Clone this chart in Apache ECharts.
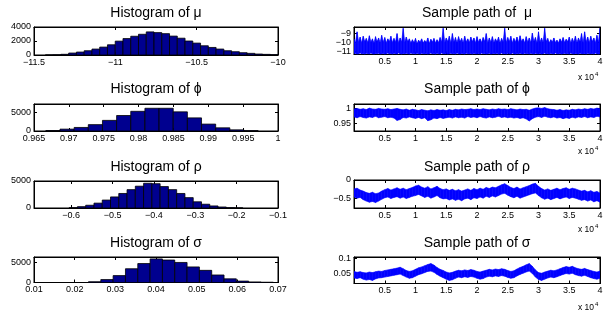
<!DOCTYPE html>
<html><head><meta charset="utf-8">
<script src="https://cdn.jsdelivr.net/npm/echarts@6/dist/echarts.min.js"></script>
<style>html,body{margin:0;padding:0;background:#fff}#c{width:611px;height:315px}</style>
</head><body><div id="c"></div>
<script>
// ---------- Histogram data ----------
const muHistStart = -11.43, muHistBinW = 0.0477;
const muHistCounts = [10, 30, 100, 280, 420, 610, 850, 1130, 1460, 1980, 2350, 2680, 2960, 3300, 3200, 3050, 2700, 2400, 2000, 1700, 1320, 1080, 850, 610, 470, 330, 235, 140, 90, 50];
const phiHistStart = 0.9667, phiHistBinW = 0.00203;
const phiHistCounts = [130, 500, 950, 1700, 2830, 4130, 5250, 6060, 6060, 5110, 3500, 1840, 850, 310, 90];
const rhoHistStart = -0.605, rhoHistBinW = 0.02;
const rhoHistCounts = [60, 250, 510, 900, 1470, 2050, 2690, 3400, 4040, 4580, 4500, 3970, 3400, 2690, 1920, 1150, 700, 380, 190, 60, 20];
const sigmaHistStart = 0.0234, sigmaHistBinW = 0.00303;
const sigmaHistCounts = [200, 720, 1700, 3400, 4680, 5830, 5550, 4950, 3850, 3000, 1860, 900, 350, 150, 70];

// ---------- Tick values ----------
const muHistXTicks = [-11.5, -11, -10.5, -10];
const muHistYTicks = [0, 2000, 4000];
const phiHistXTicks = [0.965, 0.97, 0.975, 0.98, 0.985, 0.99, 0.995, 1];
const phiHistYTicks = [0, 5000];
const rhoHistXTicks = [-0.6, -0.5, -0.4, -0.3, -0.2, -0.1];
const rhoHistYTicks = [0, 5000];
const sigmaHistXTicks = [0.01, 0.02, 0.03, 0.04, 0.05, 0.06, 0.07];
const sigmaHistYTicks = [0, 5000];
const pathXTicks = [5000, 10000, 15000, 20000, 25000, 30000, 35000, 40000];
const muPathYTicks = [-11, -10, -9];
const phiPathYTicks = [0.95, 1];
const rhoPathYTicks = [-0.5, 0];
const sigmaPathYTicks = [0.05, 0.1];

// ---------- Sample path envelopes ----------
const muPathStep = 250;   // mu path read every 250 iterations
const muPathHi = [-9.6, -10.0, -8.8, -9.95, -9.4, -10.05, -9.3, -9.9, -9.55, -10.0,
 -9.25, -9.95, -9.6, -10.05, -9.35, -9.9, -9.5, -10.0, -9.2, -9.95,
 -9.45, -10.05, -9.6, -9.9, -9.3, -10.0, -9.55, -9.95, -9.0, -10.05,
 -9.5, -9.95, -8.4, -10.0, -9.4, -9.9, -9.6, -10.05, -9.7, -10.0,
 -9.55, -10.1, -9.75, -9.95, -9.6, -10.05, -9.8, -10.0, -9.5, -10.1,
 -9.65, -9.95, -9.55, -10.05, -9.7, -10.0, -9.45, -9.95, -8.4, -10.0,
 -9.5, -9.9, -9.3, -10.05, -9.0, -9.95, -9.45, -10.0, -9.35, -9.9,
 -9.55, -10.05, -9.3, -9.95, -9.6, -10.0, -9.4, -9.9, -9.5, -10.05,
 -9.35, -9.95, -9.6, -10.0, -9.45, -9.9, -9.0, -10.05, -9.5, -9.95,
 -9.35, -10.0, -9.6, -9.9, -9.4, -10.05, -9.55, -9.95, -8.4, -10.0,
 -9.45, -9.9, -9.3, -10.05, -9.55, -9.95, -9.4, -10.0, -9.25, -9.9,
 -9.6, -10.05, -9.35, -9.95, -9.5, -10.0, -8.95, -9.9, -9.45, -10.05,
 -8.8, -9.95, -9.5, -10.0, -8.4, -9.9, -9.55, -10.05, -9.7, -9.95,
 -9.5, -10.0, -9.75, -10.05, -9.6, -9.95, -9.45, -10.0, -9.65, -9.9,
 -9.4, -10.05, -9.55, -9.95, -9.3, -10.0, -9.5, -9.9, -9.0, -10.05,
 -8.8, -9.95, -9.4, -10.0, -9.3, -9.9, -9.5, -10.05, -9.2, -9.95,
 -8.4];
const muPathLo = [-11.3, -11.25, -11.35, -11.3, -11.2, -11.32, -11.28, -11.35, -11.25, -11.3,
 -11.33, -11.22, -11.3, -11.35, -11.27, -11.3, -11.24, -11.34, -11.3, -11.26,
 -11.35, -11.3, -11.22, -11.33, -11.28, -11.35, -11.25, -11.3, -11.34, -11.2,
 -11.3, -11.35, -11.27, -11.32, -11.25, -11.3, -11.35, -11.22, -11.3, -11.28,
 -11.34, -11.25, -11.3, -11.35, -11.24, -11.3, -11.33, -11.27, -11.35, -11.3,
 -11.22, -11.32, -11.28, -11.35, -11.25, -11.3, -11.34, -11.2, -11.3, -11.33,
 -11.27, -11.35, -11.3, -11.25, -11.32, -11.28, -11.35, -11.22, -11.3, -11.34,
 -11.26, -11.3, -11.35, -11.24, -11.3, -11.32, -11.27, -11.35, -11.25, -11.3,
 -11.33, -11.28, -11.35, -11.22, -11.3, -11.26, -11.34, -11.3, -11.24, -11.35,
 -11.3, -11.27, -11.32, -11.25, -11.35, -11.3, -11.21, -11.33, -11.28, -11.35,
 -11.25, -11.3, -11.34, -11.22, -11.3, -11.35, -11.27, -11.32, -11.25, -11.3,
 -11.35, -11.23, -11.3, -11.28, -11.34, -11.25, -11.3, -11.35, -11.24, -11.3,
 -11.33, -11.27, -11.35, -11.3, -11.22, -11.32, -11.28, -11.35, -11.25, -11.3,
 -11.34, -11.2, -11.3, -11.33, -11.27, -11.35, -11.3, -11.25, -11.32, -11.28,
 -11.35, -11.22, -11.3, -11.34, -11.26, -11.3, -11.35, -11.24, -11.3, -11.32,
 -11.27, -11.35, -11.25, -11.3, -11.33, -11.28, -11.35, -11.22, -11.3, -11.34,
 -11.3];
const pathStep = 500;     // other paths read every 500 iterations
const phiPathHi = [0.999, 1.001, 0.998, 1.0, 0.997, 1.002, 0.999, 0.998, 1.001, 0.999,
 0.998, 1.0, 0.997, 0.999, 1.001, 0.998, 0.996, 0.999, 0.995, 0.998,
 0.996, 0.994, 0.997, 0.995, 0.993, 0.996, 0.994, 0.997, 0.995, 0.996,
 0.994, 0.997, 0.995, 0.998, 0.996, 0.999, 0.997, 0.998, 1.0, 0.997,
 0.999, 0.997, 1.0, 0.998, 0.996, 0.999, 0.997, 1.0, 0.998, 0.999,
 0.997, 1.0, 0.998, 0.996, 0.999, 0.997, 0.998, 0.995, 0.999, 1.002,
 1.003, 1.001, 1.004, 1.0, 0.998, 0.997, 0.995, 0.997, 0.994, 0.996,
 0.995, 0.998, 0.996, 0.999, 0.997, 1.0, 0.998, 1.001, 0.999, 1.002,
 1.0];
const phiPathLo = [0.972, 0.969, 0.973, 0.970, 0.968, 0.972, 0.970, 0.974, 0.969, 0.971,
 0.973, 0.969, 0.971, 0.968, 0.960, 0.963, 0.970, 0.968, 0.972, 0.969,
 0.967, 0.970, 0.966, 0.969, 0.959, 0.962, 0.968, 0.966, 0.970, 0.967,
 0.969, 0.971, 0.968, 0.972, 0.969, 0.971, 0.968, 0.973, 0.970, 0.972,
 0.969, 0.973, 0.970, 0.968, 0.972, 0.969, 0.971, 0.974, 0.970, 0.972,
 0.969, 0.971, 0.968, 0.970, 0.967, 0.969, 0.965, 0.958, 0.966, 0.971,
 0.973, 0.970, 0.974, 0.971, 0.969, 0.972, 0.968, 0.970, 0.966, 0.969,
 0.967, 0.971, 0.968, 0.972, 0.970, 0.973, 0.969, 0.972, 0.970, 0.974,
 0.972];
const rhoPathHi = [-0.24, -0.22, -0.27, -0.30, -0.34, -0.36, -0.33, -0.37, -0.35, -0.30,
 -0.26, -0.23, -0.27, -0.24, -0.21, -0.25, -0.22, -0.26, -0.23, -0.20,
 -0.16, -0.14, -0.19, -0.22, -0.18, -0.24, -0.21, -0.17, -0.23, -0.26,
 -0.24, -0.28, -0.25, -0.29, -0.26, -0.30, -0.27, -0.24, -0.28, -0.23,
 -0.26, -0.22, -0.25, -0.20, -0.23, -0.19, -0.21, -0.17, -0.13, -0.10,
 -0.15, -0.20, -0.23, -0.19, -0.24, -0.21, -0.18, -0.15, -0.11, -0.09,
 -0.17, -0.23, -0.27, -0.24, -0.28, -0.25, -0.22, -0.26, -0.23, -0.21,
 -0.25, -0.22, -0.24, -0.27, -0.30, -0.28, -0.32, -0.29, -0.33, -0.31,
 -0.35];
const rhoPathLo = [-0.46, -0.49, -0.47, -0.53, -0.57, -0.60, -0.58, -0.61, -0.57, -0.52,
 -0.48, -0.46, -0.50, -0.47, -0.45, -0.49, -0.46, -0.50, -0.47, -0.44,
 -0.42, -0.39, -0.43, -0.47, -0.44, -0.49, -0.46, -0.42, -0.48, -0.51,
 -0.50, -0.54, -0.51, -0.55, -0.52, -0.56, -0.51, -0.49, -0.53, -0.48,
 -0.50, -0.46, -0.49, -0.44, -0.47, -0.43, -0.46, -0.42, -0.38, -0.36,
 -0.41, -0.45, -0.48, -0.44, -0.49, -0.46, -0.43, -0.40, -0.37, -0.35,
 -0.42, -0.48, -0.52, -0.49, -0.53, -0.50, -0.47, -0.51, -0.48, -0.46,
 -0.50, -0.47, -0.49, -0.52, -0.55, -0.53, -0.57, -0.54, -0.59, -0.56,
 -0.60];
const sigmaPathHi = [0.057, 0.054, 0.056, 0.053, 0.052, 0.055, 0.053, 0.056, 0.058, 0.057,
 0.060, 0.062, 0.064, 0.066, 0.068, 0.071, 0.066, 0.060, 0.057, 0.059,
 0.064, 0.069, 0.072, 0.076, 0.080, 0.083, 0.078, 0.070, 0.064, 0.060,
 0.055, 0.052, 0.054, 0.058, 0.061, 0.059, 0.062, 0.060, 0.063, 0.061,
 0.057, 0.055, 0.058, 0.061, 0.064, 0.062, 0.065, 0.063, 0.066, 0.064,
 0.060, 0.057, 0.059, 0.065, 0.070, 0.074, 0.079, 0.083, 0.074, 0.062,
 0.053, 0.051, 0.055, 0.058, 0.061, 0.059, 0.062, 0.066, 0.070, 0.073,
 0.071, 0.074, 0.069, 0.066, 0.064, 0.067, 0.063, 0.060, 0.057, 0.055,
 0.058];
const sigmaPathLo = [0.035, 0.033, 0.036, 0.031, 0.028, 0.030, 0.027, 0.032, 0.035, 0.036,
 0.038, 0.040, 0.042, 0.044, 0.046, 0.048, 0.043, 0.038, 0.034, 0.036,
 0.041, 0.046, 0.049, 0.053, 0.057, 0.058, 0.054, 0.047, 0.041, 0.036,
 0.031, 0.027, 0.029, 0.034, 0.038, 0.036, 0.039, 0.037, 0.040, 0.038,
 0.034, 0.031, 0.033, 0.038, 0.041, 0.039, 0.042, 0.040, 0.043, 0.041,
 0.037, 0.034, 0.036, 0.042, 0.047, 0.051, 0.055, 0.058, 0.050, 0.038,
 0.030, 0.027, 0.031, 0.035, 0.038, 0.036, 0.039, 0.043, 0.047, 0.050,
 0.048, 0.051, 0.046, 0.043, 0.041, 0.044, 0.040, 0.036, 0.033, 0.031,
 0.034];

// ---------- Build chart ----------
const FONT = "'Liberation Sans', Arial, Helvetica, sans-serif";
const fmtNum = v => String(+(+v).toFixed(6)).replace('-', '\u2212');
const fmtIter = v => String(+(v / 10000).toFixed(4));

function histData(start, w, counts) { return counts.map((c, i) => [start + i * w, start + (i + 1) * w, c]); }
function pathData(lo, hi, step) { return hi.map((h, i) => [i * step, lo[i], h]); }

const L = {left: 34, width: 244}, R = {left: 354, width: 246};
const panels = [
  {kind: 'hist', title: 'Histogram of \u03bc', col: L, top: 27, height: 28, xMin: -11.5, xMax: -10, xTicks: muHistXTicks, yMin: 0, yMax: 4000, yTicks: muHistYTicks, data: histData(muHistStart, muHistBinW, muHistCounts), tY: 13.5},
  {kind: 'path', title: 'Sample path of  \u03bc', col: R, top: 27, height: 27.5, xMin: 0, xMax: 40000, xTicks: pathXTicks, yMin: -11.38, yMax: -8.25, yTicks: muPathYTicks, splitLabels: true, data: pathData(muPathLo, muPathHi, muPathStep), tY: 13.5, mY: 78},
  {kind: 'hist', title: 'Histogram of \u03d5', col: L, top: 104, height: 27, xMin: 0.965, xMax: 1, xTicks: phiHistXTicks, yMin: 0, yMax: 7200, yTicks: phiHistYTicks, data: histData(phiHistStart, phiHistBinW, phiHistCounts), tY: 89},
  {kind: 'path', title: 'Sample path of \u03d5', col: R, top: 104, height: 27, xMin: 0, xMax: 40000, xTicks: pathXTicks, yMin: 0.924, yMax: 1.016, yTicks: phiPathYTicks, data: pathData(phiPathLo, phiPathHi, pathStep), tY: 89, mY: 152},
  {kind: 'hist', title: 'Histogram of \u03c1', col: L, top: 181, height: 27, xMin: -0.69, xMax: -0.1, xTicks: rhoHistXTicks, yMin: 0, yMax: 5000, yTicks: rhoHistYTicks, data: histData(rhoHistStart, rhoHistBinW, rhoHistCounts), tY: 167.5},
  {kind: 'path', title: 'Sample path of \u03c1', col: R, top: 180, height: 28, xMin: 0, xMax: 40000, xTicks: pathXTicks, yMin: -0.756, yMax: 0, yTicks: rhoPathYTicks, data: pathData(rhoPathLo, rhoPathHi, pathStep), tY: 167.5, mY: 230},
  {kind: 'hist', title: 'Histogram of \u03c3', col: L, top: 257, height: 25.5, xMin: 0.01, xMax: 0.07, xTicks: sigmaHistXTicks, yMin: 0, yMax: 6300, yTicks: sigmaHistYTicks, data: histData(sigmaHistStart, sigmaHistBinW, sigmaHistCounts), tY: 243},
  {kind: 'path', title: 'Sample path of \u03c3', col: R, top: 257, height: 26.5, xMin: 0, xMax: 40000, xTicks: pathXTicks, yMin: 0.0167, yMax: 0.105, yTicks: sigmaPathYTicks, data: pathData(sigmaPathLo, sigmaPathHi, pathStep), tY: 243, mY: 308}
];

const grids = [], xAxes = [], yAxes = [], series = [], graphics = [], extraY = [];
const axisLine = () => ({show: true, onZero: false, lineStyle: {color: '#000', width: 1}});
const tick = vals => ({show: true, inside: true, length: 3, customValues: vals, lineStyle: {color: '#000', width: 1}});
const lab = (vals, f) => ({show: true, customValues: vals, formatter: f, margin: 3, fontSize: 9, color: '#000', fontFamily: FONT,
  hideOverlap: false, showMinLabel: true, showMaxLabel: true});

function renderBar(params, api) {
  const p0 = api.coord([api.value(0), 0]);
  const p1 = api.coord([api.value(1), api.value(2)]);
  return {type: 'rect', shape: {x: p0[0], y: p1[1], width: p1[0] - p0[0], height: p0[1] - p1[1]},
    style: {fill: '#00008F', stroke: '#000', lineWidth: 0.8}};
}
function makeBand(n) {
  return function (params, api) {
    const i = params.dataIndexInside;
    if (i >= n - 1) return null;
    const a0 = api.coord([api.value(0), api.value(1)]);
    const a1 = api.coord([api.value(0), api.value(2)]);
    const b1 = api.coord([api.value(0, i + 1), api.value(2, i + 1)]);
    const b0 = api.coord([api.value(0, i + 1), api.value(1, i + 1)]);
    return {type: 'polygon', shape: {points: [a0, a1, b1, b0]}, style: {fill: '#0000FF', stroke: '#0000FF', lineWidth: 0.6}};
  };
}

panels.forEach((p, g) => {
  grids.push({left: p.col.left, top: p.top, width: p.col.width, height: p.height, containLabel: false,
    show: true, borderColor: '#000', borderWidth: 1, backgroundColor: 'rgba(0,0,0,0)'});
  const xf = p.kind === 'path' ? fmtIter : fmtNum;
  // closely spaced labels are spread over two overlaid left axes so none is dropped
  const yLabA = p.splitLabels ? p.yTicks.filter((v, i) => i % 2 === 0) : p.yTicks;
  const yLabB = p.splitLabels ? p.yTicks.filter((v, i) => i % 2 === 1) : null;
  xAxes.push({gridIndex: g, type: 'value', position: 'bottom', min: p.xMin, max: p.xMax, axisLine: axisLine(), splitLine: {show: false}, axisTick: tick(p.xTicks), axisLabel: lab(p.xTicks, xf)});
  xAxes.push({gridIndex: g, type: 'value', position: 'top', min: p.xMin, max: p.xMax, axisLine: axisLine(), splitLine: {show: false}, axisTick: tick(p.xTicks), axisLabel: {show: false}});
  yAxes.push({gridIndex: g, type: 'value', position: 'left', min: p.yMin, max: p.yMax, axisLine: axisLine(), splitLine: {show: false}, axisTick: tick(p.yTicks), axisLabel: lab(yLabA, fmtNum)});
  yAxes.push({gridIndex: g, type: 'value', position: 'right', min: p.yMin, max: p.yMax, axisLine: axisLine(), splitLine: {show: false}, axisTick: tick(p.yTicks), axisLabel: {show: false}});
  if (yLabB) {
    extraY.push({gridIndex: g, type: 'value', position: 'left', offset: 0, min: p.yMin, max: p.yMax, axisLine: {show: false}, axisTick: {show: false}, splitLine: {show: false}, axisLabel: lab(yLabB, fmtNum)});
  }
  if (p.kind === 'hist') {
    series.push({type: 'custom', xAxisIndex: 2 * g, yAxisIndex: 2 * g, data: p.data, encode: {x: [0, 1], y: 2}, renderItem: renderBar, clip: true, silent: true});
  } else {
    series.push({type: 'custom', xAxisIndex: 2 * g, yAxisIndex: 2 * g, data: p.data, encode: {x: 0, y: [1, 2]}, renderItem: makeBand(p.data.length), clip: true, silent: true});
  }
  const cx = p.col.left + p.col.width / 2;
  graphics.push({type: 'text', x: cx, y: p.tY, silent: true,
    style: {text: p.title, fill: '#000', font: '14px ' + FONT, textAlign: 'center', textVerticalAlign: 'middle', align: 'center', verticalAlign: 'middle'}});
  if (p.kind === 'path') {
    graphics.push({type: 'text', x: 594, y: p.mY, silent: true,
      style: {text: 'x 10', fill: '#000', font: '8.5px ' + FONT, textAlign: 'right', textVerticalAlign: 'middle', align: 'right', verticalAlign: 'middle'}});
    graphics.push({type: 'text', x: 595, y: p.mY - 4, silent: true,
      style: {text: '4', fill: '#000', font: '6px ' + FONT, textAlign: 'left', textVerticalAlign: 'middle', align: 'left', verticalAlign: 'middle'}});
  }
});
extraY.forEach(a => yAxes.push(a));

const chart = echarts.init(document.getElementById('c'), null, {renderer: 'canvas'});
chart.setOption({
  animation: false,
  backgroundColor: '#fff',
  grid: grids, xAxis: xAxes, yAxis: yAxes, series: series, graphic: graphics
});
</script>
</body></html>
